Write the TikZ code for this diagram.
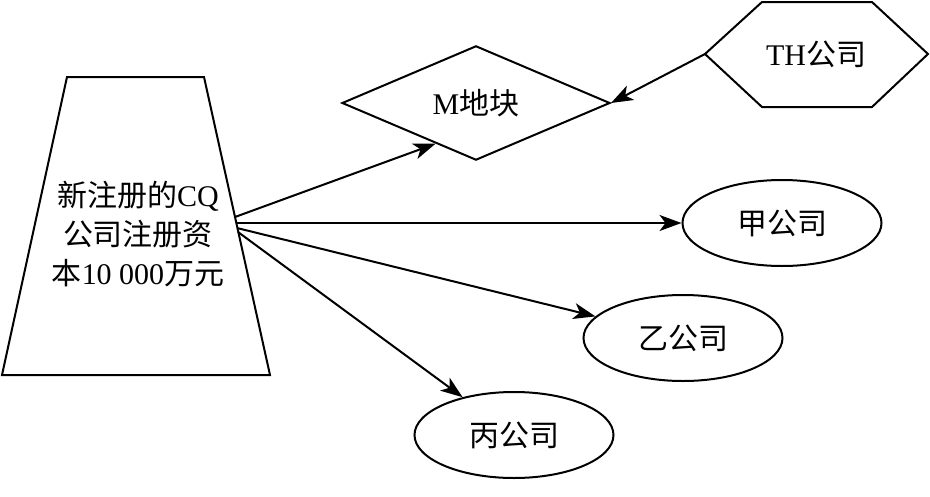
\documentclass[tikz,border=0pt]{standalone}
\usepackage{fontspec}
\setmainfont{Liberation Serif}
\newfontfamily\cjk{Noto Sans CJK SC}
\usetikzlibrary{shapes.geometric,arrows.meta,calc}
\begin{document}
\begin{tikzpicture}[x=1pt,y=-1pt,
  txt/.style={font=\fontsize{30}{39}\selectfont, align=center, inner sep=0pt},
  outl/.style={line width=2pt, line join=miter},
  ell/.style={ellipse, draw, outl, minimum width=199pt, minimum height=86pt, inner sep=0pt, txt},
  conn/.style={line width=2pt, -{Stealth[length=22pt,width=16pt,inset=6pt]}}]
\useasboundingbox (0,0) rectangle (930,496);

% trapezoid
\coordinate (tl) at (67,77);
\coordinate (tr) at (204,77);
\coordinate (br) at (270,375);
\coordinate (bl) at (2,375);
\draw[outl] (tl) -- (tr) -- (br) -- (bl) -- cycle;
\node[txt] (cq) at (138,234) {{\cjk 新注册的}CQ\\{\cjk 公司注册资}\\{\cjk 本}10\hspace{0.25em}000{\cjk 万元}};
\coordinate (s1) at (235,217);
\coordinate (s2) at (236,223);
\coordinate (s3) at (237,228);
\coordinate (s4) at (238,232);

% diamond
\node[diamond, draw, outl, minimum width=268pt, minimum height=108pt, inner sep=0pt, txt] (m) at (476,103) {M{\cjk 地块}};
\coordinate (mlow) at ($(m.west)!0.7!(m.south)$);

% hexagon
\coordinate (h1) at (705,54);
\coordinate (h2) at (762,2);
\coordinate (h3) at (872,2);
\coordinate (h4) at (928,54);
\coordinate (h5) at (872,107);
\coordinate (h6) at (762,107);
\draw[outl] (h1) -- (h2) -- (h3) -- (h4) -- (h5) -- (h6) -- cycle;
\node[txt] (th) at (816,54) {TH{\cjk 公司}};

% ellipses
\node[ell] (jia) at (782,223) {{\cjk 甲公司}};
\node[ell] (yi) at (683,338) {{\cjk 乙公司}};
\node[ell] (bing) at (514,435) {{\cjk 丙公司}};

% connectors
\draw[conn] (s1) -- (mlow);
\draw[conn] (s2) -- (jia.west);
\draw[conn] (s3) -- (yi);
\draw[conn] (s4) -- (bing);
\draw[conn] (h1) -- (m.east);
\end{tikzpicture}
\end{document}
